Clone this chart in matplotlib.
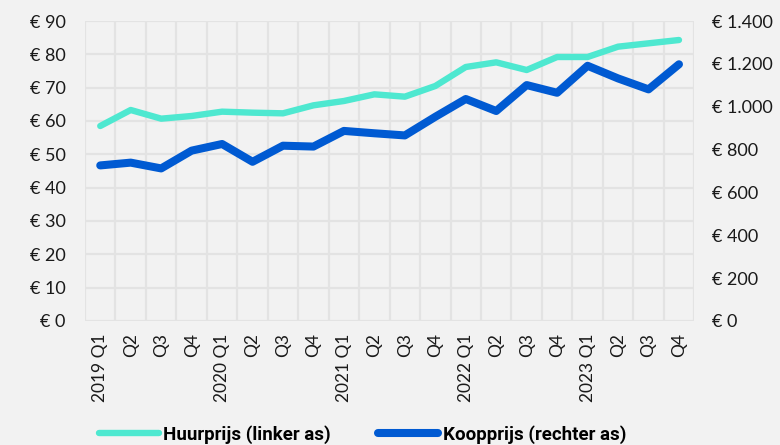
import matplotlib.pyplot as plt
import numpy as np
from matplotlib.ticker import FuncFormatter

plt.rcParams['font.family'] = ['Lato', 'DejaVu Sans']

# data
kwartalen = ['2019 Q1', 'Q2', 'Q3', 'Q4',
             '2020 Q1', 'Q2', 'Q3', 'Q4',
             '2021 Q1', 'Q2', 'Q3', 'Q4',
             '2022 Q1', 'Q2', 'Q3', 'Q4',
             '2023 Q1', 'Q2', 'Q3', 'Q4']
huurprijs = [58.5, 63.3, 60.7, 61.5, 62.8, 62.5, 62.3, 64.7, 66.0, 68.0,
             67.3, 70.5, 76.2, 77.6, 75.3, 79.2, 79.2, 82.3, 83.3, 84.3]
koopprijs = [726, 739, 712, 795, 826, 743, 818, 814, 887, 876,
             866, 953, 1036, 980, 1101, 1065, 1191, 1132, 1081, 1198]

huur_kleur = '#4EE8D0'
koop_kleur = '#005AD2'
grid_kleur = '#E3E3E3'
tekst_kleur = '#1A1A1A'

def euro(v, pos):
    return '€ ' + f'{int(v):,}'.replace(',', '.')

fig = plt.figure(figsize=(7.8, 4.45), dpi=100, facecolor='#F2F2F2')
ax = fig.add_axes([0.109, 0.2787, 0.781, 0.6741])
ax.set_facecolor('#F2F2F2')
ax2 = ax.twinx()

x = np.arange(len(kwartalen))
l1, = ax.plot(x, huurprijs, color=huur_kleur, lw=4.6, solid_capstyle='round',
              solid_joinstyle='round', zorder=3, label='Huurprijs (linker as)')
l2, = ax2.plot(x, koopprijs, color=koop_kleur, lw=5.8, solid_capstyle='round',
               solid_joinstyle='round', zorder=3, label='Koopprijs (rechter as)')

ax.set_xlim(-0.5, len(kwartalen) - 0.5)
ax.set_ylim(0, 90)
ax2.set_ylim(0, 1400)
ax.set_yticks(np.arange(0, 91, 10))
ax2.set_yticks(np.arange(0, 1401, 200))
ax.yaxis.set_major_formatter(FuncFormatter(euro))
ax2.yaxis.set_major_formatter(FuncFormatter(euro))

ax.set_xticks(x)
ax.set_xticklabels(kwartalen, rotation=90, va='top', ha='center')
ax.set_xticks(np.arange(-0.5, len(kwartalen)), minor=True)

# raster
ax.grid(False)
ax.grid(which='minor', axis='x', color=grid_kleur, lw=1.6, zorder=0)
ax.grid(which='major', axis='y', color=grid_kleur, lw=1.6, zorder=0)
ax.tick_params(which='both', length=0)
ax.tick_params(axis='y', pad=14, labelsize=13, labelcolor=tekst_kleur)
ax.tick_params(axis='x', pad=9, labelsize=12.5, labelcolor=tekst_kleur)
ax2.tick_params(length=0, pad=13, labelsize=13, labelcolor=tekst_kleur)
for a in (ax, ax2):
    for s in a.spines.values():
        s.set_visible(False)
ax2.patch.set_visible(False)

fig.legend(handles=[l1, l2], loc='lower left', bbox_to_anchor=(0.105, -0.035),
           ncol=2, frameon=False, handlelength=3.2, handletextpad=0.25,
           columnspacing=2.5,
           prop={'family': ['Roboto', 'DejaVu Sans'], 'weight': 'bold', 'size': 13.5})

plt.savefig('out.png', dpi=100, facecolor=fig.get_facecolor())
